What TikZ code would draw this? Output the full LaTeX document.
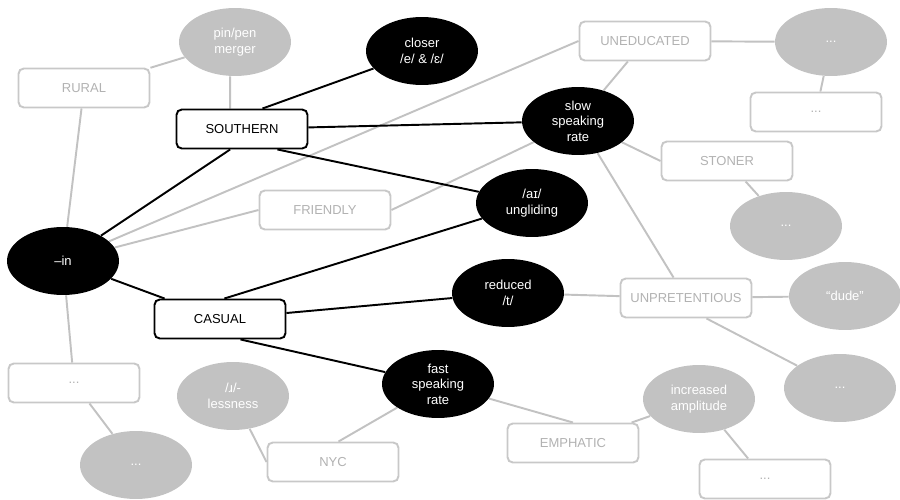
\documentclass[tikz,border=0pt]{standalone}
\usepackage{fontspec}
\setmainfont{Liberation Sans}
\usetikzlibrary{shapes.geometric}
\usetikzlibrary{backgrounds}

\definecolor{cuegray}{RGB}{194,194,194}
\definecolor{framegray}{RGB}{200,200,200}
\definecolor{wordgray}{RGB}{178,178,178}
\newcommand{\labelsize}{\fontsize{7.4}{8.9}\selectfont}

\begin{document}
\begin{tikzpicture}[x = .02cm, y = -.02cm,
  cue/.style = {ellipse, fill = black, text = white, minimum width = 2.24cm,
    minimum height = 1.36cm, inner sep = 0, align = center, font = \labelsize},
  farcue/.style = {cue, fill = cuegray},
  meaning/.style = {rectangle, draw = black, line width = 1.1pt, fill = white,
    rounded corners = 3pt, minimum width = 2.62cm, minimum height = .78cm,
    inner sep = 0, font = \labelsize},
  farmeaning/.style = {meaning, draw = framegray, text = wordgray},
  link/.style = {line width = 1.1pt},
  farlink/.style = {link, draw = cuegray}]
  \useasboundingbox (0, 0) rectangle (900, 500);

  % cues
  \node[cue] (in) at (63, 261) {–in};
  \node[cue] (closer) at (422, 51) {closer\\/e/ \& /ɛ/};
  \node[cue] (slow) at (578, 121) {slow\\speaking\\rate};
  \node[cue] (unglide) at (532, 203) {/aɪ/\\ungliding};
  \node[cue] (reduced) at (508, 293) {reduced\\/t/};
  \node[cue] (fast) at (438, 384) {fast\\speaking\\rate};

  \node[farcue] (pinpen) at (235, 42) {pin/pen\\merger};
  \node[farcue] (dotsNE) at (831, 42) {...};
  \node[farcue] (dotsE) at (786, 226) {...};
  \node[farcue] (dude) at (845, 296) {“dude”};
  \node[farcue] (dotsSE) at (840, 388) {...};
  \node[farcue] (amplitude) at (699, 399) {increased\\amplitude};
  \node[farcue] (rless) at (233, 396) {/ɹ/-\\lessness};
  \node[farcue] (dotsSW) at (136, 465) {...};

  % meanings
  \node[meaning] (southern) at (242, 129) {SOUTHERN};
  \node[meaning] (casual) at (220, 319) {CASUAL};

  \node[farmeaning] (rural) at (84, 88) {RURAL};
  \node[farmeaning] (friendly) at (325, 210) {FRIENDLY};
  \node[farmeaning] (uneducated) at (645, 41) {UNEDUCATED};
  \node[farmeaning] (boxNE) at (816, 112) {...};
  \node[farmeaning] (stoner) at (727, 161) {STONER};
  \node[farmeaning] (unpret) at (686, 298) {UNPRETENTIOUS};
  \node[farmeaning] (emphatic) at (573, 443) {EMPHATIC};
  \node[farmeaning] (boxSE) at (765, 479) {...};
  \node[farmeaning] (nyc) at (333, 462) {NYC};
  \node[farmeaning] (boxW) at (74, 383) {...};

  \begin{scope}[on background layer]
    \draw[farlink] (rural) -- (pinpen);
    \draw[farlink] ([xshift = -2.8pt] pinpen.south) -- ([xshift = -6.8pt] southern.north);
    \draw[farlink] (rural) -- (in);
    \draw[farlink] (in) -- (boxW);
    \draw[farlink] (boxW) -- (dotsSW);
    \draw[farlink] (in) -- (uneducated.west);
    \draw[farlink] (in) -- (friendly.west);
    \draw[farlink] (friendly.east) -- (slow);
    \draw[farlink] (slow) -- (uneducated);
    \draw[farlink] (uneducated) -- (dotsNE);
    \draw[farlink] (dotsNE) -- (boxNE);
    \draw[farlink] (slow) -- (stoner.west);
    \draw[farlink] (stoner) -- (dotsE);
    \draw[farlink] (slow) -- (unpret);
    \draw[farlink] (reduced) -- (unpret);
    \draw[farlink] (unpret) -- (dude);
    \draw[farlink] (unpret.-45) -- (dotsSE);
    \draw[farlink] (fast) -- (emphatic.north);
    \draw[farlink] (emphatic) -- (amplitude);
    \draw[farlink] (amplitude) -- (boxSE);
    \draw[farlink] (fast) -- (nyc.75);
    \draw[farlink] (rless) -- (nyc.west);

    \draw[link] (in) -- (southern.240);
    \draw[link] (in) -- (casual);
    \draw[link] (southern.45) -- (closer);
    \draw[link] (southern) -- (slow);
    \draw[link] (southern.-30) -- (unglide);
    \draw[link] (casual.78) -- (unglide);
    \draw[link] (casual) -- (reduced);
    \draw[link] (casual.-45) -- (fast);
  \end{scope}
\end{tikzpicture}
\end{document}
